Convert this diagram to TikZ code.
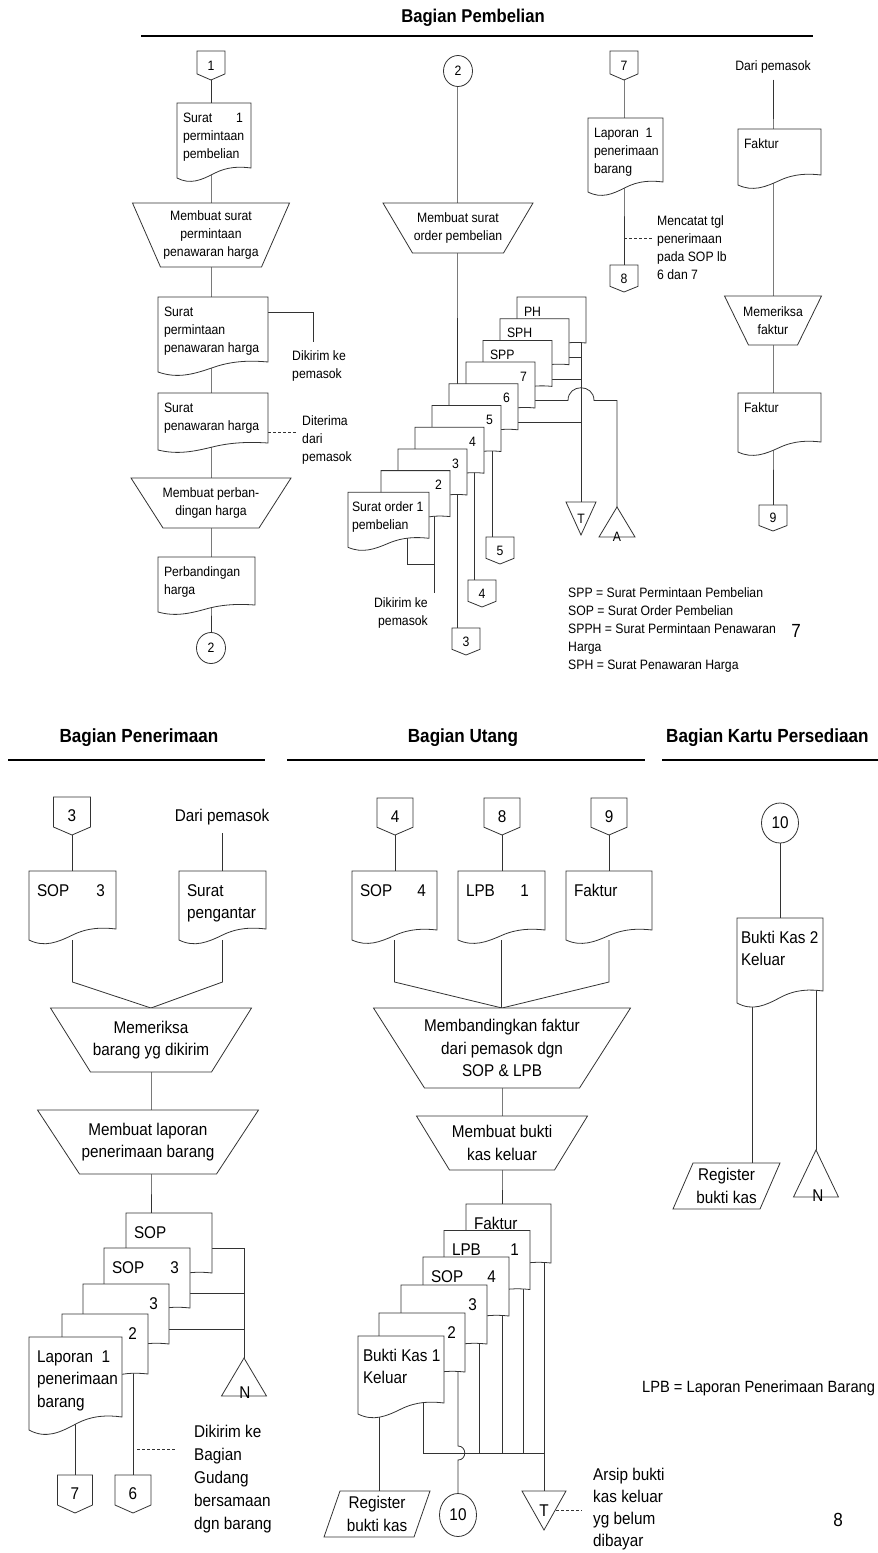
\documentclass[tikz,border=0pt]{standalone}
\usepackage{fontspec}
\setmainfont{Liberation Sans}[FakeStretch=0.9]
\usetikzlibrary{shapes.geometric,calc,backgrounds}

\makeatletter
\def\zRect{%
  \inheritsavedanchors[from=rectangle]%
  \inheritanchorborder[from=rectangle]%
  \inheritanchor[from=rectangle]{center}%
  \inheritanchor[from=rectangle]{north}%
  \inheritanchor[from=rectangle]{south}%
  \inheritanchor[from=rectangle]{east}%
  \inheritanchor[from=rectangle]{west}%
  \inheritanchor[from=rectangle]{north east}%
  \inheritanchor[from=rectangle]{north west}%
  \inheritanchor[from=rectangle]{south east}%
  \inheritanchor[from=rectangle]{south west}%
}
\def\zCorners{%
  \southwest \pgf@xa=\pgf@x \pgf@ya=\pgf@y
  \northeast \pgf@xb=\pgf@x \pgf@yb=\pgf@y
  \edef\zXa{\strip@pt\pgf@xa}\edef\zYa{\strip@pt\pgf@ya}%
  \edef\zXb{\strip@pt\pgf@xb}\edef\zYb{\strip@pt\pgf@yb}%
  \pgfmathsetmacro\zW{\zXb-(\zXa)}%
  \pgfmathsetmacro\zH{\zYb-(\zYa)}%
  \pgfmathsetmacro\zXm{0.5*(\zXa+\zXb)}%
}
\pgfdeclareshape{docshape}{\zRect
  \backgroundpath{\zCorners
    \pgfmathsetmacro\zD{\docwave}%
    \pgfpathmoveto{\pgfpoint{\zXa pt}{\zYb pt}}%
    \pgfpathlineto{\pgfpoint{\zXb pt}{\zYb pt}}%
    \pgfpathlineto{\pgfpoint{\zXb pt}{\zYa pt+\zD pt}}%
    \pgfpathcurveto{\pgfpoint{\zXa pt+0.85*\zW pt}{\zYa pt+1.15*\zD pt}}{\pgfpoint{\zXa pt+0.68*\zW pt}{\zYa pt+1.15*\zD pt}}{\pgfpoint{\zXa pt+0.5*\zW pt}{\zYa pt+0.45*\zD pt}}%
    \pgfpathcurveto{\pgfpoint{\zXa pt+0.33*\zW pt}{\zYa pt-0.2*\zD pt}}{\pgfpoint{\zXa pt+0.18*\zW pt}{\zYa pt-0.7*\zD pt}}{\pgfpoint{\zXa pt}{\zYa pt}}%
    \pgfpathclose}}
\pgfdeclareshape{offpage}{\zRect
  \backgroundpath{\zCorners
    \pgfmathsetmacro\zP{0.21*\zH}%
    \pgfpathmoveto{\pgfpoint{\zXa pt}{\zYb pt}}%
    \pgfpathlineto{\pgfpoint{\zXb pt}{\zYb pt}}%
    \pgfpathlineto{\pgfpoint{\zXb pt}{\zYa pt+\zP pt}}%
    \pgfpathlineto{\pgfpoint{\zXm pt}{\zYa pt}}%
    \pgfpathlineto{\pgfpoint{\zXa pt}{\zYa pt+\zP pt}}%
    \pgfpathclose}}
\pgfdeclareshape{mergetri}{\zRect
  \backgroundpath{\zCorners
    \pgfpathmoveto{\pgfpoint{\zXa pt}{\zYb pt}}%
    \pgfpathlineto{\pgfpoint{\zXb pt}{\zYb pt}}%
    \pgfpathlineto{\pgfpoint{\zXm pt}{\zYa pt}}%
    \pgfpathclose}}
\pgfdeclareshape{extracttri}{\zRect
  \backgroundpath{\zCorners
    \pgfpathmoveto{\pgfpoint{\zXm pt}{\zYb pt}}%
    \pgfpathlineto{\pgfpoint{\zXb pt}{\zYa pt}}%
    \pgfpathlineto{\pgfpoint{\zXa pt}{\zYa pt}}%
    \pgfpathclose}}
\pgfdeclareshape{manualop}{\zRect
  \backgroundpath{\zCorners
    \pgfpathmoveto{\pgfpoint{\zXa pt}{\zYb pt}}%
    \pgfpathlineto{\pgfpoint{\zXb pt}{\zYb pt}}%
    \pgfpathlineto{\pgfpoint{\zXb pt-\opinset pt}{\zYa pt}}%
    \pgfpathlineto{\pgfpoint{\zXa pt+\opinset pt}{\zYa pt}}%
    \pgfpathclose}}
\pgfdeclareshape{parallelo}{\zRect
  \backgroundpath{\zCorners
    \pgfpathmoveto{\pgfpoint{\zXa pt+\plslant pt}{\zYb pt}}%
    \pgfpathlineto{\pgfpoint{\zXb pt}{\zYb pt}}%
    \pgfpathlineto{\pgfpoint{\zXb pt-\plslant pt}{\zYa pt}}%
    \pgfpathlineto{\pgfpoint{\zXa pt}{\zYa pt}}%
    \pgfpathclose}}
\makeatother

\def\docwave{8}\def\opinset{20}\def\plslant{16}
\def\dbase{19}\def\dpadl{6}\def\dpadr{9}
\newcommand\fnA{\fontsize{13.6}{18}\selectfont\def\dbase{19}\def\dpadl{6}\def\dpadr{8}}
\newcommand\fnB{\fontsize{17}{22.5}\selectfont\def\dbase{25}\def\dpadl{8}\def\dpadr{11}}
\newcommand\dtext[4][\dpadl]{\parbox[c][#3pt][t]{#2pt}{\setlength\parindent{0pt}\setlength\leftskip{#1pt}\setlength\rightskip{0pt plus 1fil}\setlength\parfillskip{0pt plus 1fil}\rule{0pt}{\dbase pt}#4}}
\newcommand\dn[2][\dpadr]{\hfill #2\hspace*{#1pt}}

\tikzset{
  doc wave/.code={\def\docwave{#1}},
  opinset/.code={\def\opinset{#1}},
  plslant/.code={\def\plslant{#1}},
  lw/.style={line width=0.8pt, draw=black!80},
  shp/.style={lw, fill=white, inner sep=0pt, outer sep=0pt},
  docn/.style={shp, docshape, anchor=north west},
  opn/.style={shp, manualop, anchor=north, align=center},
  offn/.style={shp, offpage, anchor=north},
  merg/.style={shp, mergetri, anchor=north},
  extr/.style={shp, extracttri, anchor=north},
  parl/.style={shp, parallelo, anchor=north, align=center},
  circn/.style={shp, ellipse},
  txt/.style={inner sep=0pt, align=left, anchor=north west},
  ctxt/.style={inner sep=0pt, align=center},
  conn/.style={lw},
  dsh/.style={lw, dash pattern=on 3pt off 2pt},
  lane/.style={line width=1.4pt, draw=black},
  ttl/.style={inner sep=0pt, font=\fontsize{19}{22}\selectfont\bfseries},
}

\begin{document}
\begin{tikzpicture}[x=1pt,y=-1pt]
\useasboundingbox (0,0) rectangle (878,1553);

% ================= TOP: Bagian Pembelian =================
\begin{scope}[font=\fnA]
\node[ttl, font=\fontsize{18.5}{21}\selectfont\bfseries] (t1) at (473,18) {Bagian Pembelian};
\draw[lane] (141,36) -- (813,36);

% column A
\node[offn, minimum width=28pt, minimum height=29pt] (c1) at (211,51) {1};
\node[docn, doc wave=10] (a1) at (177,103) {\dtext{74}{75}{Surat\dn{1}\\permintaan\\pembelian}};
\node[opn, minimum width=157pt, minimum height=64pt, opinset=28] (a2) at (211,203) {Membuat surat\\permintaan\\penawaran harga};
\node[docn, doc wave=10] (a3) at (158,297) {\dtext{110}{75}{Surat\\permintaan\\penawaran harga}};
\node[docn, doc wave=7] (a4) at (158,393) {\dtext{110}{57}{Surat\\penawaran harga}};
\node[opn, minimum width=160pt, minimum height=50pt, opinset=32] (a5) at (211,478) {Membuat perban-\\dingan harga};
\node[docn, doc wave=7] (a6) at (158,557) {\dtext{97}{55}{Perbandingan\\harga}};
\node[circn, minimum width=29pt, minimum height=31pt] (a7) at (211,648) {2};
\node[txt] (a3l) at (292,350) {Dikirim ke\\pemasok};
\node[txt] (a4l) at (302,415) {Diterima\\dari\\pemasok};

% column B
\node[circn, minimum width=29pt, minimum height=31pt] (b1) at (458,71) {2};
\node[opn, minimum width=150pt, minimum height=50pt, opinset=29.5] (b2) at (458,203) {Membuat surat\\order pembelian};
\node[docn, doc wave=7] (s1) at (517,297) {\dtext[7]{69}{53}{PH}};
\node[docn, doc wave=7] (s2) at (500,318.7) {\dtext[7]{69}{53}{SPH}};
\node[docn, doc wave=7] (s3) at (483,340.4) {\dtext[7]{69}{53}{SPP}};
\node[docn, doc wave=7] (s4) at (466,362) {\dtext{69}{53}{\dn{7}}};
\node[docn, doc wave=7] (s5) at (449,383.8) {\dtext{69}{53}{\dn{6}}};
\node[docn, doc wave=7] (s6) at (432,405.5) {\dtext{69}{53}{\dn{5}}};
\node[docn, doc wave=7] (s7) at (415,427.2) {\dtext{69}{53}{\dn{4}}};
\node[docn, doc wave=7] (s8) at (398,449) {\dtext{69}{53}{\dn{3}}};
\node[docn, doc wave=7] (s9) at (381,470.6) {\dtext{69}{53}{\dn{2}}};
\node[docn, doc wave=9] (s10) at (348,492.3) {\dtext[4]{81}{55}{Surat order 1\\pembelian}};
\node[merg, minimum width=30pt, minimum height=33pt] (tT) at (581,502) {T};
\node[extr, minimum width=36pt, minimum height=30pt] (tA) at (617,507) {};
\node[ctxt] (tAl) at (617,537) {A};
\node[offn, minimum width=28pt, minimum height=27pt] (c5) at (500,537) {5};
\node[offn, minimum width=28pt, minimum height=27pt] (c4) at (482,580) {4};
\node[offn, minimum width=28pt, minimum height=27pt] (c3) at (466,628) {3};
\node[txt, align=right, anchor=north east] (s9l) at (428,597) {Dikirim ke\\pemasok};

% column C
\node[offn, minimum width=28pt, minimum height=29pt] (c7) at (624,51) {7};
\node[docn, doc wave=10] (cc) at (588,118) {\dtext{75}{74}{Laporan\ \ 1\\penerimaan\\barang}};
\node[offn, minimum width=28pt, minimum height=27pt] (c8) at (624,265) {8};
\node[txt] (ccl) at (657,215) {Mencatat tgl\\penerimaan\\pada SOP lb\\6 dan 7};

% column D
\node[ctxt] (dl) at (773,67) {Dari pemasok};
\node[docn, doc wave=10] (d1) at (738,129) {\dtext{83}{56}{Faktur}};
\node[opn, minimum width=97pt, minimum height=49pt, opinset=24] (d2) at (773,296) {Memeriksa\\faktur};
\node[docn, doc wave=10] (d3) at (738,393) {\dtext{83}{59}{Faktur}};
\node[offn, minimum width=28pt, minimum height=26pt] (c9) at (773,505) {9};

% legend
\node[txt] (lg) at (568,587) {SPP = Surat Permintaan Pembelian\\SOP = Surat Order Pembelian\\SPPH = Surat Permintaan Penawaran\\Harga\\SPH = Surat Penawaran Harga};
\node[ctxt, font=\fontsize{19}{22}\selectfont] (p7) at (796,631) {7};
\end{scope}

% ================= BOTTOM =================
\begin{scope}[font=\fnB]
\node[ttl] (t2) at (139,738) {Bagian Penerimaan};
\node[ttl] (t3) at (463,738) {Bagian Utang};
\node[ttl, anchor=west] (t4) at (666,738) {Bagian Kartu Persediaan};
\draw[lane] (8,760) -- (265,760);
\draw[lane] (287,760) -- (645,760);
\draw[lane] (662,760) -- (878,760);

% column E
\node[offn, minimum width=37pt, minimum height=38pt] (e1) at (72,797) {3};
\node[docn, doc wave=11] (e2) at (29,871) {\dtext{87}{69}{SOP\dn{3}}};
\node[ctxt] (el) at (222,817) {Dari pemasok};
\node[docn, doc wave=11] (e3) at (179,871) {\dtext{87}{69}{Surat\\pengantar}};
\node[opn, minimum width=201pt, minimum height=64pt, opinset=40] (e4) at (151,1008) {Memeriksa\\barang yg dikirim};
\node[opn, minimum width=221pt, minimum height=64pt, opinset=42] (e5) at (148,1110) {Membuat laporan\\penerimaan barang};
\node[docn, doc wave=10] (e6) at (126,1213) {\dtext{86}{70}{SOP}};
\node[docn, doc wave=10] (e7) at (104,1248) {\dtext{86}{70}{SOP\dn{3}}};
\node[docn, doc wave=10] (e8) at (83,1284) {\dtext{86}{70}{\dn{3}}};
\node[docn, doc wave=10] (e9) at (62,1314) {\dtext{86}{70}{\dn{2}}};
\node[docn, doc wave=13] (e10) at (29,1337) {\dtext{93}{93}{Laporan\ \ 1\\penerimaan\\barang}};
\node[extr, minimum width=45pt, minimum height=38pt] (ne) at (244,1358) {};
\node[ctxt] (nel) at (245,1393) {N};
\node[offn, minimum width=35pt, minimum height=38pt] (c7e) at (75,1475) {7};
\node[offn, minimum width=36pt, minimum height=38pt] (c6e) at (133,1475) {6};
\node[txt, font=\fontsize{17}{23}\selectfont] (e9l) at (194,1425) {Dikirim ke\\Bagian\\Gudang\\bersamaan\\dgn barang};

% column F
\node[offn, minimum width=36pt, minimum height=37pt] (f1) at (395,798) {4};
\node[offn, minimum width=36pt, minimum height=37pt] (f2) at (502,798) {8};
\node[offn, minimum width=36pt, minimum height=37pt] (f3) at (609,798) {9};
\node[docn, doc wave=10] (f4) at (352,871) {\dtext{85}{69}{SOP\dn{4}}};
\node[docn, doc wave=10] (f5) at (458,871) {\dtext{87}{69}{LPB\dn[16]{1}}};
\node[docn, doc wave=10] (f6) at (566,871) {\dtext{86}{69}{Faktur}};
\node[opn, minimum width=257pt, minimum height=80pt, opinset=51] (f7) at (502,1008) {Membandingkan faktur\\dari pemasok dgn\\SOP \& LPB};
\node[opn, minimum width=171pt, minimum height=54pt, opinset=33] (f8) at (502,1116) {Membuat bukti\\kas keluar};
\node[docn, doc wave=9] (f9) at (466,1204) {\dtext{85}{68}{Faktur}};
\node[docn, doc wave=9] (f10) at (444,1230.5) {\dtext{86}{68}{LPB\dn{1}}};
\node[docn, doc wave=9] (f11) at (423,1257) {\dtext{86}{68}{SOP\dn[13]{4}}};
\node[docn, doc wave=9] (f12) at (401,1285) {\dtext{86}{68}{\dn[10]{3}}};
\node[docn, doc wave=9] (f13) at (379,1313) {\dtext{86}{68}{\dn[9]{2}}};
\node[docn, doc wave=11] (f14) at (358,1336) {\dtext[5]{86}{78}{Bukti Kas 1\\Keluar}};
\node[merg, minimum width=44pt, minimum height=39pt] (tF) at (544,1491) {T};
\node[circn, minimum width=37pt, minimum height=43pt] (f16) at (458,1515) {10};
\node[parl, minimum width=106pt, minimum height=46pt, plslant=16] (f15) at (377,1491) {Register\\bukti kas};
\node[txt, font=\fontsize{17}{22}\selectfont] (fl) at (593,1468) {Arsip bukti\\kas keluar\\yg belum\\dibayar};

% column G
\node[circn, minimum width=37pt, minimum height=40pt] (g1) at (780,823) {10};
\node[docn, doc wave=12] (g2) at (737,918) {\dtext[4]{86}{85}{Bukti Kas 2\\Keluar}};
\node[parl, minimum width=107pt, minimum height=46pt, plslant=20] (g3) at (726.5,1163) {Register\\bukti kas};
\node[extr, minimum width=45pt, minimum height=47pt] (g4) at (816,1150) {};
\node[ctxt] (g4l) at (818,1196) {N};
\node[inner sep=0pt, anchor=west, font=\fontsize{16.3}{20}\selectfont] (lpb) at (642,1388) {LPB = Laporan Penerimaan Barang};
\node[ctxt, font=\fontsize{19}{22}\selectfont] (p8) at (838,1520) {8};
\end{scope}

% ================= CONNECTORS =================
\begin{pgfonlayer}{background}
\fill[white] (0,0) rectangle (878,1553);
% column A
\coordinate (xA) at (211,0);
\draw[conn] (xA |- c1) -- (xA |- a1) -- (xA |- a2) -- (xA |- a3) -- (xA |- a4) -- (xA |- a5) -- (xA |- a6) -- (xA |- a7);
\draw[conn] ([yshift=-15pt]a3.north east) -- ++(45,0) -- ++(0,30);
\draw[dsh] ([yshift=-39pt]a4.north east) -- ++(29,0);
% column B
\coordinate (xB) at (457,0);
\draw[conn] (xB |- b1) -- (xB |- b2) -- (xB |- s5);
\draw[conn] (tT |- s1) -- (tT);
\coordinate (s2o) at ([yshift=-12pt]s2.center);
\coordinate (s3o) at ([yshift=-12pt]s3.center);
\coordinate (s4o) at ([yshift=-12pt]s4.center);
\coordinate (s5o) at ([yshift=-12pt]s5.center);
\draw[conn] (s2o) -- (tT |- s2o);
\draw[conn] (s3o) -- (tT |- s3o);
\draw[conn] (s5o) -- (tT |- s5o);
\draw[conn] (s4o) -- ($(tT |- s4o)+(-13,0)$) .. controls +(0,-17) and +(0,-17) .. ($(tT |- s4o)+(13,0)$) -- (tA |- s4o) -- (tA);
\coordinate (s6b) at ([xshift=25.5pt]s6.center);
\coordinate (s7b) at ([xshift=25pt]s7.center);
\coordinate (s8b) at ([xshift=25pt]s8.center);
\coordinate (s9b) at ([xshift=18.5pt]s9.center);
\coordinate (s10b) at ([xshift=18.5pt]s10.center);
\draw[conn] (s6b) -- (s6b |- c5);
\draw[conn] (s7b) -- (s7b |- c4);
\draw[conn] (s8b) -- (s8b |- c3);
\draw[conn] (s9b) -- ++(0,96);
\draw[conn] (s10b) -- ++(0,45) -| (s9b);
% column C
\coordinate (xC) at (624,0);
\draw[conn] (xC |- c7) -- (xC |- cc) -- (xC |- c8);
\coordinate (ccd) at ($(cc.south)!0.63!(c8.north)$);
\draw[dsh] (xC |- ccd) -- ++(28,0);
% column D
\coordinate (xD) at (773,0);
\draw[conn] ([yshift=-6pt]dl.south) -- (xD |- d1) -- (xD |- d2) -- (xD |- d3) -- (xD |- c9);
% column E
\coordinate (jE) at ($(e4.north)+(0,-26)$);
\draw[conn] (e1) -- (e1 |- e2);
\draw[conn] ([yshift=-8pt]el.south) -- (el |- e3);
\draw[conn] (e2) -- (e2 |- jE) -- (e4.north);
\draw[conn] (e3) -- (e3 |- jE) -- (e4.north);
\coordinate (xE) at (151,0);
\draw[conn] (xE |- e4) -- (xE |- e5) -- (xE |- e6);
\draw[conn] (e6) -- (ne |- e6) -- (ne);
\coordinate (e7o) at ([yshift=-10pt]e7.center);
\coordinate (e8o) at ([yshift=-10pt]e8.center);
\draw[conn] (e7o) -- (ne |- e7o);
\draw[conn] (e8o) -- (ne |- e8o);
\coordinate (e9b) at ([xshift=28pt]e9.center);
\draw[conn] (e9b) -- (e9b |- c6e);
\draw[conn] (c7e |- e10) -- (c7e);
\coordinate (e9d) at ($(e9b |- c6e.north)+(4,-26)$);
\draw[dsh] (e9d) -- ++(39,0);
% column F
\draw[conn] (f1) -- (f1 |- f4);
\draw[conn] (f2) -- (f2 |- f5);
\draw[conn] (f3) -- (f3 |- f6);
\coordinate (jF) at ($(f7.north)+(0,-26)$);
\draw[conn] (f4) -- (f4 |- jF) -- (f7.north);
\draw[conn] (f6) -- (f6 |- jF) -- (f7.north);
\draw[conn] (f5) -- (f5 |- f7.north);
\coordinate (xF) at (502,0);
\draw[conn] (xF |- f7) -- (xF |- f8) -- (xF |- f9);
\coordinate (busF) at ($(f14.south)+(0,39)$);
\coordinate (f9b) at ([xshift=35.5pt]f9.center);
\coordinate (f10b) at ([xshift=36pt]f10.center);
\coordinate (f11b) at ([xshift=36pt]f11.center);
\coordinate (f12b) at ([xshift=35pt]f12.center);
\coordinate (f13b) at ([xshift=36pt]f13.center);
\coordinate (f14b) at ([xshift=22pt]f14.center);
\coordinate (f14a) at ([xshift=-22pt]f14.center);
\draw[conn] (f9b) -- (f9b |- tF);
\draw[conn] (f10b) -- (f10b |- busF);
\draw[conn] (f11b) -- (f11b |- busF);
\draw[conn] (f12b) -- (f12b |- busF);
\draw[conn] (f14b) -- (f14b |- busF) -- (f9b |- busF);
\draw[conn] (f13b) -- ($(f13b |- busF)+(0,-7)$) .. controls +(9,0) and +(9,0) .. ($(f13b |- busF)+(0,7)$) -- (f13b |- f16);
\draw[conn] (f14a) -- (f14a |- f15);
\draw[dsh] ([xshift=-10pt]tF.east) -- ++(26,0);
% column G
\draw[conn] (g1) -- (g1 |- g2);
\coordinate (g2a) at ([xshift=-28pt]g2.center);
\coordinate (g2b) at ([xshift=36pt]g2.center);
\draw[conn] (g2a) -- (g2a |- g3);
\draw[conn] (g2b) -- (g4);
\end{pgfonlayer}
\end{tikzpicture}
\end{document}
